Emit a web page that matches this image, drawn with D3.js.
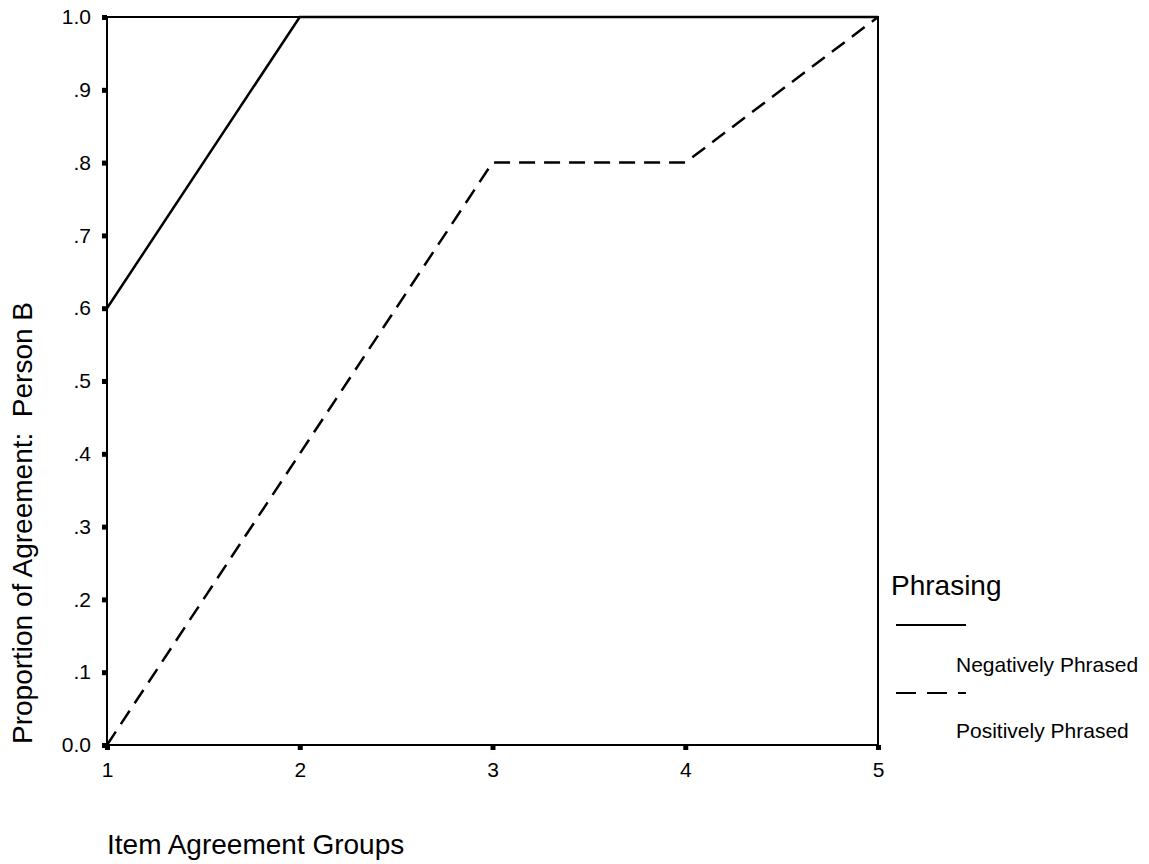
<!DOCTYPE html>
<html><head><meta charset="utf-8">
<script src="https://cdn.jsdelivr.net/npm/d3@7"></script>
<style>body{margin:0;background:#fff}svg{display:block}text{font-family:"Liberation Sans",Arial,sans-serif;fill:#000}</style>
</head><body>
<svg id="c" width="1149" height="864"></svg>
<script>
const groups = [1, 2, 3, 4, 5];
const negative = [0.6, 1.0, 1.0, 1.0, 1.0];
const positive = [0.0, 0.4, 0.8, 0.8, 1.0];
const yTicks = [0, 0.1, 0.2, 0.3, 0.4, 0.5, 0.6, 0.7, 0.8, 0.9, 1.0];
const yTickLabels = ["0.0", ".1", ".2", ".3", ".4", ".5", ".6", ".7", ".8", ".9", "1.0"];
const seriesNames = ["Negatively Phrased", "Positively Phrased"];

const svg = d3.select("#c");
const L = 107, R = 878, T = 17, B = 745;
const x = d3.scaleLinear().domain([1, 5]).range([L, R]);
const y = d3.scaleLinear().domain([0, 1]).range([B, T]);

// frame
svg.append("rect").attr("x", L).attr("y", T).attr("width", R - L).attr("height", B - T)
  .attr("fill", "none").attr("stroke", "#000").attr("stroke-width", 2);

// y axis
const yAxis = d3.axisLeft(y).tickValues(yTicks).tickSize(0)
  .tickFormat((d, i) => yTickLabels[i]).tickPadding(16);
const gy = svg.append("g").attr("transform", `translate(${L},0)`).call(yAxis);
gy.select(".domain").remove();
gy.attr("font-size", null).attr("font-family", null);
gy.selectAll("text").style("font-size", "21px");
gy.selectAll(".tick").append("rect").attr("x", -5).attr("y", -2.5).attr("width", 5).attr("height", 5).attr("fill", "#000");

// x axis
const xAxis = d3.axisBottom(x).tickValues(groups).tickSize(0).tickFormat(d3.format("d")).tickPadding(17);
const gx = svg.append("g").attr("transform", `translate(0,${B})`).call(xAxis);
gx.select(".domain").remove();
gx.attr("font-size", null).attr("font-family", null);
gx.selectAll("text").style("font-size", "21px");
gx.selectAll(".tick").append("rect").attr("x", -2.5).attr("y", 0).attr("width", 5).attr("height", 5).attr("fill", "#000");

const line = d3.line().x((d, i) => x(groups[i])).y(d => y(d));
svg.append("path").datum(negative).attr("d", line).attr("fill", "none")
  .attr("stroke", "#000").attr("stroke-width", 2.5);
svg.append("path").datum(positive).attr("d", line).attr("fill", "none")
  .attr("stroke", "#000").attr("stroke-width", 2.5).attr("stroke-dasharray", "16,9");

// axis titles
svg.append("text").attr("transform", "translate(32,523) rotate(-90)")
  .attr("text-anchor", "middle").style("font-size", "28px").style("white-space", "pre")
  .attr("xml:space", "preserve").text("Proportion of Agreement:  Person B");
svg.append("text").attr("x", 107).attr("y", 854).style("font-size", "28px").text("Item Agreement Groups");

// legend
svg.append("text").attr("x", 891).attr("y", 595).style("font-size", "28px").text("Phrasing");
const lg = svg.append("g");
const legY = [625, 693];
const legTextY = [672, 738];
seriesNames.forEach((name, i) => {
  lg.append("line").attr("x1", 896).attr("x2", 966).attr("y1", legY[i]).attr("y2", legY[i])
    .attr("stroke", "#000").attr("stroke-width", 2)
    .attr("stroke-dasharray", i === 1 ? "20,11" : null);
  lg.append("text").attr("x", 956).attr("y", legTextY[i]).style("font-size", "21px").text(name);
});
</script>
</body></html>
